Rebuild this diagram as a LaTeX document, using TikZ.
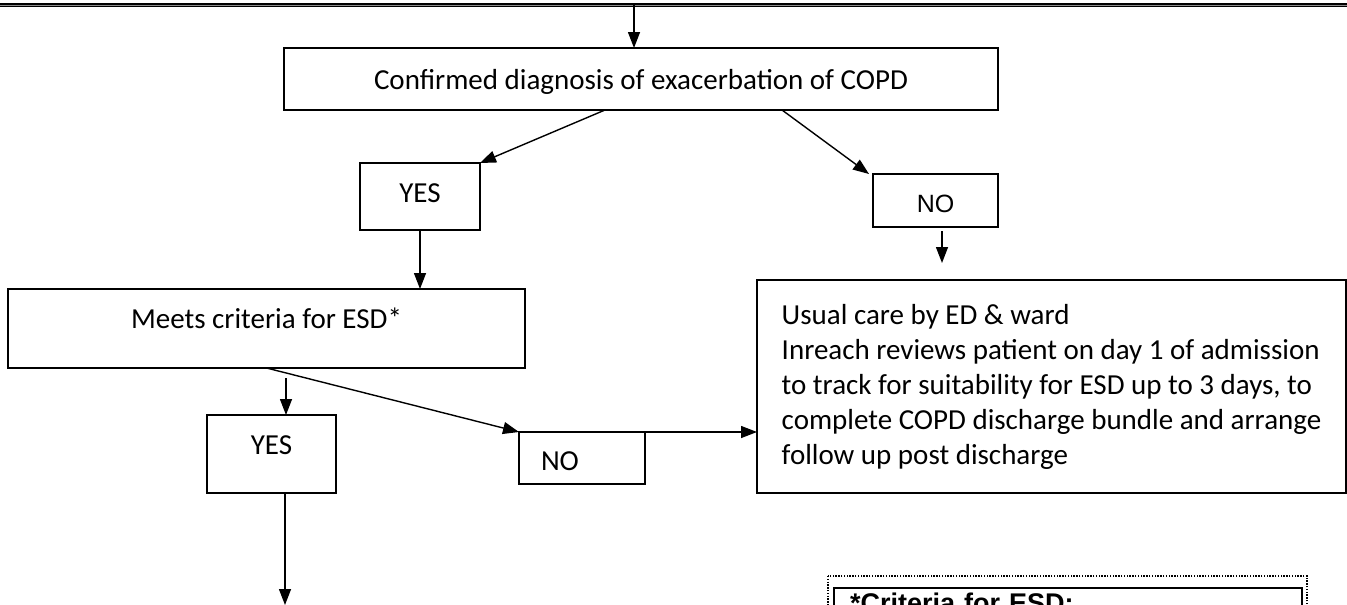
\documentclass[tikz,border=0pt]{standalone}
\usepackage{fontspec}
\setmainfont{Carlito}
\newfontfamily\arialfont{Liberation Sans}
\usetikzlibrary{arrows.meta}

\begin{document}
\begin{tikzpicture}[x=1pt, y=-1pt,
    box/.style={draw, line width=1.6pt, rectangle, inner sep=0pt, outer sep=0pt, anchor=north west, font=\fontsize{29}{35}\selectfont},
    arr/.style={line width=1.4pt, -{Triangle[length=16pt, width=12pt]}}]
  \useasboundingbox (0,0) rectangle (1347,605);
  \clip (0,0) rectangle (1347,605);

  % rule at the top of the page
  \draw[line width=1.3pt, double=black!45, double distance=0.7pt] (0,5) -- (1347,5);
  \coordinate (start) at (634,5);

  \node[box, minimum width=714pt, text height=41pt, text depth=21pt] (confirm) at (284,48) {Confirmed diagnosis of exacerbation of COPD};
  \node[box, minimum width=120pt, text height=39pt, text depth=28pt] (yes1) at (360,163) {YES};
  \node[box, minimum width=125pt, text height=38pt, text depth=15pt, font=\arialfont\fontsize{25}{30}\selectfont] (no1) at (873,174) {NO};
  \node[box, minimum width=517pt, text height=39pt, text depth=40pt] (meets) at (8,289) {Meets criteria for ESD*};
  \node[box, minimum width=129pt, text height=39pt, text depth=39pt] (yes2) at (207,415) {YES};
  \node[box, text width=82pt, inner xsep=22pt, align=left, text height=38pt, text depth=14pt] (no2) at (519,432) {NO};
  \node[box, align=left, minimum width=589pt, minimum height=213pt] (usual) at (757,280) {Usual care by ED \& ward\\
    Inreach reviews patient on day 1 of admission\\
    to track for suitability for ESD up to 3 days, to\\
    complete COPD discharge bundle and arrange\\
    follow up post discharge};

  % criteria box, cut by the page edge
  \node[box, line width=1.8pt, text width=436pt, inner xsep=16pt, align=left, text height=24pt, text depth=40pt, font=\arialfont\bfseries\fontsize{27}{32}\selectfont] (crit) at (834,588) {*Criteria for ESD:};
  \draw[line width=1.4pt, dash pattern=on 1.4pt off 1.4pt] ([xshift=-6pt,yshift=12pt]crit.north west) rectangle ([xshift=5pt,yshift=-8pt]crit.south east);

  \draw[arr] (start) -- (start |- confirm.north);
  \draw[arr] ([xshift=-36pt]confirm.south) -- (yes1.north east);
  \draw[arr] ([xshift=141pt]confirm.south) -- ([xshift=-4pt]no1.north west);
  \draw[arr] (yes1.south) -- (yes1.south |- meets.north);
  \draw[arr] ([xshift=6.5pt,yshift=-4pt]no1.south) -- ([xshift=6.5pt,yshift=-36pt]no1.south);
  \draw[arr] ([xshift=19.5pt,yshift=-10pt]meets.south) -- ([xshift=14.5pt]yes2.north);
  \draw[arr] (meets.south) -- (no2.north west);
  \draw[arr] (no2.north east) -- (no2.north east -| usual.west);
  \coordinate (out) at (285,605);
  \draw[arr] ([xshift=13.5pt]yes2.south) -- (out);
\end{tikzpicture}
\end{document}
